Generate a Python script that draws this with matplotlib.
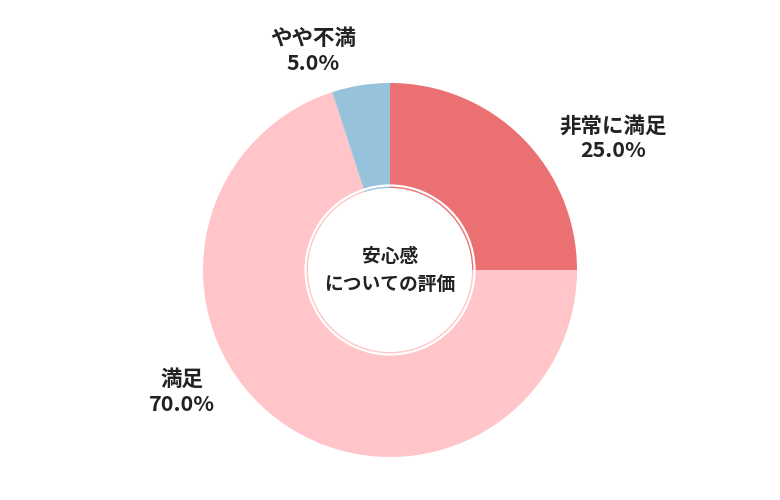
import matplotlib
matplotlib.use("Agg")
import matplotlib.pyplot as plt
from matplotlib.patches import Circle

plt.rcParams['font.family'] = ['Noto Sans CJK JP', 'DejaVu Sans']

labels = ['非常に満足', '満足', 'やや不満']
values = [25.0, 70.0, 5.0]
colors = ['#EB7072', '#FFC5C8', '#96C3DB']
label_pos = [(613, 138), (182, 392), (313, 51)]

fig = plt.figure(figsize=(7.8, 5), dpi=100)
ax = fig.add_axes([0, 0, 1, 1])
ax.set_xlim(0, 780)
ax.set_ylim(500, 0)
ax.axis('off')

cx, cy, R = 390, 270, 187
# pie in a normal-up axis, drawn via transform trick: use negative counterclock due to flipped y
ax.pie(values, colors=colors, startangle=-90, counterclock=True,
       center=(cx, cy), radius=R, frame=True,
       wedgeprops=dict(width=R - 82, linewidth=0))
ax.set_xlim(0, 780)
ax.set_ylim(500, 0)
ax.set_aspect('equal')
ax.axis('off')
ax.add_patch(Circle((cx, cy), 84.5, fill=False, ec='white', lw=1.6))
ax.add_patch(Circle((cx, cy), 81.5, fc='white', ec='none'))

for lab, v, (x, y) in zip(labels, values, label_pos):
    ax.text(x, y, f'{lab}\n{v:.1f}%', ha='center', va='center',
            fontsize=15.5, fontweight='bold', color='#222222', linespacing=1.2)

ax.text(cx, cy, '安心感\nについての評価', ha='center', va='center',
        fontsize=13.5, fontweight='bold', color='#222222', linespacing=1.6)

fig.savefig('out.png', dpi=100)
